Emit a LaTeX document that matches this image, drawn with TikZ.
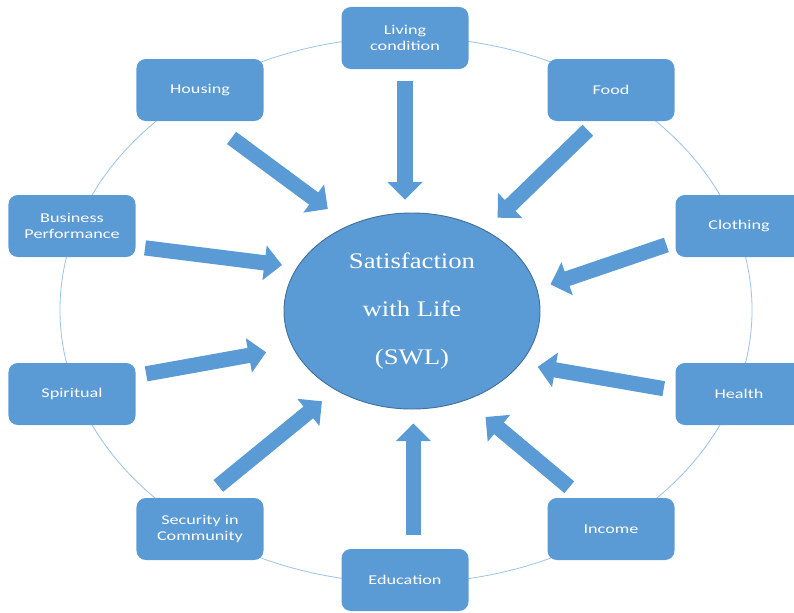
\documentclass[tikz,border=0pt]{standalone}
\usepackage{fontspec}
\setmainfont{Liberation Serif}
\newfontfamily\boxfont[FakeStretch=1.35]{Carlito}
\newfontfamily\swlfont[FakeStretch=1.2]{Liberation Serif}
\usetikzlibrary{arrows.meta,shapes.geometric}
\definecolor{officeblue}{HTML}{5B9BD5}
\definecolor{darkblue}{HTML}{41719C}
\definecolor{ringblue}{HTML}{9DC3E6}
\tikzset{
	factor/.style={rectangle, rounded corners=8pt, fill=officeblue, text=white, minimum width=3.81cm, minimum height=1.86cm, align=center, inner sep=2pt, font=\boxfont\fontsize{11.5}{13}\selectfont},
	feed/.style={draw=officeblue, line width=13pt, -{Triangle[length=15pt,width=29pt]}},
}

\begin{document}
\begin{tikzpicture}[x=0.03cm, y=-0.03cm]
	\useasboundingbox (0,0) rectangle (794,612);
	\draw[ringblue, line width=0.7pt] (406,310) ellipse [x radius=10.38cm, y radius=8.19cm];

	\node[ellipse, fill=officeblue, draw=darkblue, line width=0.8pt, minimum width=7.68cm, minimum height=5.88cm, inner sep=0pt, text=white, align=center, font=\swlfont\fontsize{19}{41}\selectfont] (swl) at (412,311) {Satisfaction\\with Life\\(SWL)};

	\node[factor] (living) at (405,38) {Living\\condition};
	\node[factor] (housing) at (200,90) {Housing};
	\node[factor] (food) at (611,90) {Food};
	\node[factor] (business) at (72,226) {Business\\Performance};
	\node[factor] (clothing) at (739,226) {Clothing};
	\node[factor] (spiritual) at (72,394) {Spiritual};
	\node[factor] (health) at (739,394) {Health};
	\node[factor] (security) at (200,529) {Security in\\Community};
	\node[factor] (income) at (611,529) {Income};
	\node[factor] (education) at (405,580) {Education};

	\draw[feed, shorten <=10pt, shorten >=11pt] (living.south) -- (living.south |- swl.north);
	\draw[feed, shorten <=24pt, shorten >=23pt] (housing.-74) -- (swl.126.5);
	\draw[feed, shorten <=11pt, shorten >=15pt] (food.-114) -- (swl.48);
	\draw[feed, shorten <=8pt, shorten >=13pt] (business.-18) -- (swl.159);
	\draw[feed, shorten <=8pt, shorten >=12pt] (clothing.194) -- (swl.10);
	\draw[feed, shorten <=9pt, shorten >=23pt] (spiritual.16) -- (swl.197);
	\draw[feed, shorten <=10pt, shorten >=15pt] (health.177) -- (swl.-26);
	\draw[feed, shorten <=16pt, shorten >=15pt] (security.83) -- (swl.226);
	\draw[feed, shorten <=14pt, shorten >=22pt] (income.133) -- (swl.-59);
	\draw[feed, shorten <=12pt, shorten >=12pt] (education.75) -- (education.75 |- swl.south);
\end{tikzpicture}
\end{document}
